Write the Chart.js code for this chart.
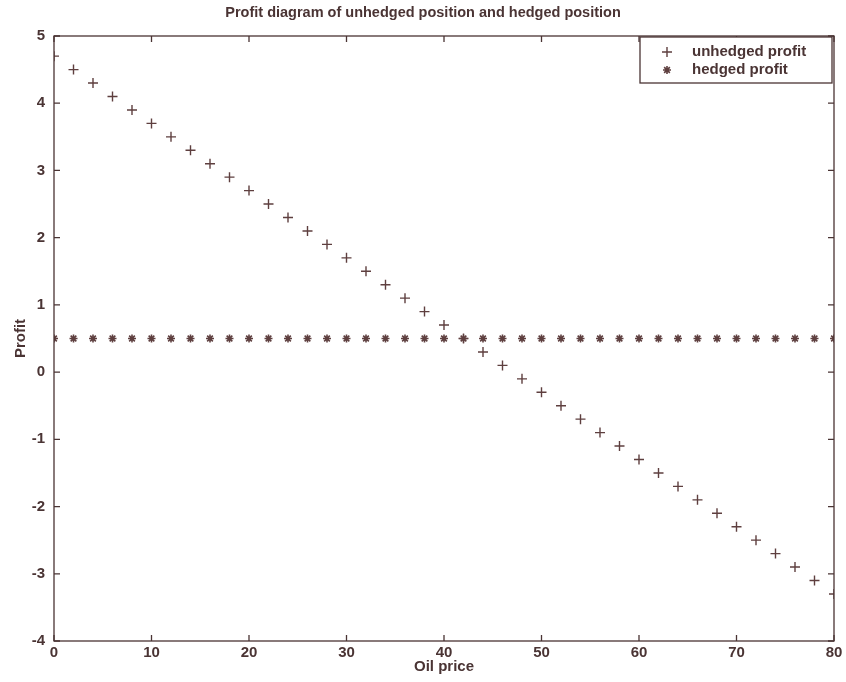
<!DOCTYPE html>
<html>
<head>
<meta charset="utf-8">
<script src="https://cdn.jsdelivr.net/npm/chart.js@4.4.0/dist/chart.umd.min.js"></script>
<style>
  html, body { margin: 0; padding: 0; background: #fff; }
  #wrap { width: 846px; height: 682px; }
</style>
</head>
<body>
<div id="wrap"><canvas id="chart" width="846" height="682"></canvas></div>
<script>
const oilPrice = [0, 2, 4, 6, 8, 10, 12, 14, 16, 18, 20, 22, 24, 26, 28, 30, 32, 34, 36, 38, 40,
  42, 44, 46, 48, 50, 52, 54, 56, 58, 60, 62, 64, 66, 68, 70, 72, 74, 76, 78, 80];
const unhedgedProfit = [4.7, 4.5, 4.3, 4.1, 3.9, 3.7, 3.5, 3.3, 3.1, 2.9, 2.7, 2.5, 2.3, 2.1, 1.9, 1.7,
  1.5, 1.3, 1.1, 0.9, 0.7, 0.5, 0.3, 0.1, -0.1, -0.3, -0.5, -0.7, -0.9, -1.1, -1.3, -1.5, -1.7,
  -1.9, -2.1, -2.3, -2.5, -2.7, -2.9, -3.1, -3.3];
const hedgedProfit = [0.5, 0.5, 0.5, 0.5, 0.5, 0.5, 0.5, 0.5, 0.5, 0.5, 0.5, 0.5, 0.5, 0.5, 0.5,
  0.5, 0.5, 0.5, 0.5, 0.5, 0.5, 0.5, 0.5, 0.5, 0.5, 0.5, 0.5, 0.5, 0.5, 0.5, 0.5, 0.5, 0.5,
  0.5, 0.5, 0.5, 0.5, 0.5, 0.5, 0.5, 0.5];
const xTicks = [0, 10, 20, 30, 40, 50, 60, 70, 80];
const yTicks = [-4, -3, -2, -1, 0, 1, 2, 3, 4, 5];
const seriesNames = ['unhedged profit', 'hedged profit'];

const ink = '#4a3434';
const markColor = '#5e3f3f';
const font = 'Liberation Sans, Arial, sans-serif';
const lbl = { family: font, size: 15, weight: 'bold' };

// box around the axes plus inward ticks, matlab style
const boxPlugin = {
  id: 'box',
  afterDraw(chart) {
    const { ctx, chartArea: a, scales } = chart;
    ctx.save();
    ctx.strokeStyle = ink;
    ctx.lineWidth = 1.3;
    ctx.strokeRect(a.left, a.top, a.right - a.left, a.bottom - a.top);
    const len = 6;
    ctx.beginPath();
    xTicks.forEach(v => {
      const px = scales.x.getPixelForValue(v);
      ctx.moveTo(px, a.bottom); ctx.lineTo(px, a.bottom - len);
      ctx.moveTo(px, a.top); ctx.lineTo(px, a.top + len);
    });
    yTicks.forEach(v => {
      const py = scales.y.getPixelForValue(v);
      ctx.moveTo(a.left, py); ctx.lineTo(a.left + len, py);
      ctx.moveTo(a.right, py); ctx.lineTo(a.right - len, py);
    });
    ctx.stroke();

    // legend box
    const lx = 640, ly = 37, lw = 192, lh = 46;
    ctx.fillStyle = '#fff';
    ctx.fillRect(lx, ly, lw, lh);
    ctx.strokeRect(lx, ly, lw, lh);
    ctx.font = 'bold 15px ' + font;
    ctx.fillStyle = ink;
    ctx.textBaseline = 'middle';
    ctx.fillText(seriesNames[0], 692, ly + 15);
    ctx.fillText(seriesNames[1], 692, ly + 33);
    ctx.strokeStyle = markColor;
    ctx.lineWidth = 1.4;
    const mx = 667;
    ctx.beginPath();
    ctx.moveTo(mx - 5, ly + 15); ctx.lineTo(mx + 5, ly + 15);
    ctx.moveTo(mx, ly + 10); ctx.lineTo(mx, ly + 20);
    ctx.stroke();
    ctx.lineWidth = 1.6;
    ctx.beginPath();
    for (let k = 0; k < 4; k++) {
      const ang = k * Math.PI / 4;
      const dx = Math.cos(ang) * 4, dy = Math.sin(ang) * 4;
      ctx.moveTo(mx - dx, ly + 33 - dy); ctx.lineTo(mx + dx, ly + 33 + dy);
    }
    ctx.stroke();
    ctx.restore();
  }
};

new Chart(document.getElementById('chart'), {
  type: 'scatter',
  data: {
    datasets: [
      {
        label: seriesNames[0],
        data: oilPrice.map((x, i) => ({ x: x, y: unhedgedProfit[i] })),
        pointStyle: 'cross',
        pointRadius: 5,
        borderColor: markColor,
        borderWidth: 1.4,
        showLine: false
      },
      {
        label: seriesNames[1],
        data: oilPrice.map((x, i) => ({ x: x, y: hedgedProfit[i] })),
        pointStyle: 'star',
        pointRadius: 4,
        borderColor: markColor,
        backgroundColor: markColor,
        borderWidth: 1.6,
        showLine: false
      }
    ]
  },
  options: {
    responsive: false,
    animation: false,
    layout: { padding: { left: 12, right: 12, top: 0, bottom: 6 } },
    plugins: {
      legend: { display: false },
      tooltip: { enabled: false },
      title: {
        display: true,
        text: 'Profit diagram of unhedged position and hedged position',
        color: ink,
        font: { family: font, size: 14.5, weight: 'bold' },
        padding: { top: 4, bottom: 14.6 }
      }
    },
    scales: {
      x: {
        type: 'linear',
        min: 0,
        max: 80,
        afterFit: s => { s.height = 35; },
        afterBuildTicks: s => { s.ticks = xTicks.map(v => ({ value: v })); },
        grid: { display: false, drawTicks: false },
        border: { display: false },
        ticks: { color: ink, font: lbl, padding: 3 },
        title: {
          display: true,
          text: 'Oil price',
          color: ink,
          font: lbl,
          padding: 0
        }
      },
      y: {
        type: 'linear',
        min: -4,
        max: 5,
        afterFit: s => { s.width = 42; },
        afterBuildTicks: s => { s.ticks = yTicks.map(v => ({ value: v })); },
        grid: { display: false, drawTicks: false },
        border: { display: false },
        ticks: { color: ink, font: lbl, padding: 9 },
        title: {
          display: true,
          text: 'Profit',
          color: ink,
          font: lbl,
          padding: { top: 0, bottom: 0 }
        }
      }
    }
  },
  plugins: [boxPlugin]
});
</script>
</body>
</html>
